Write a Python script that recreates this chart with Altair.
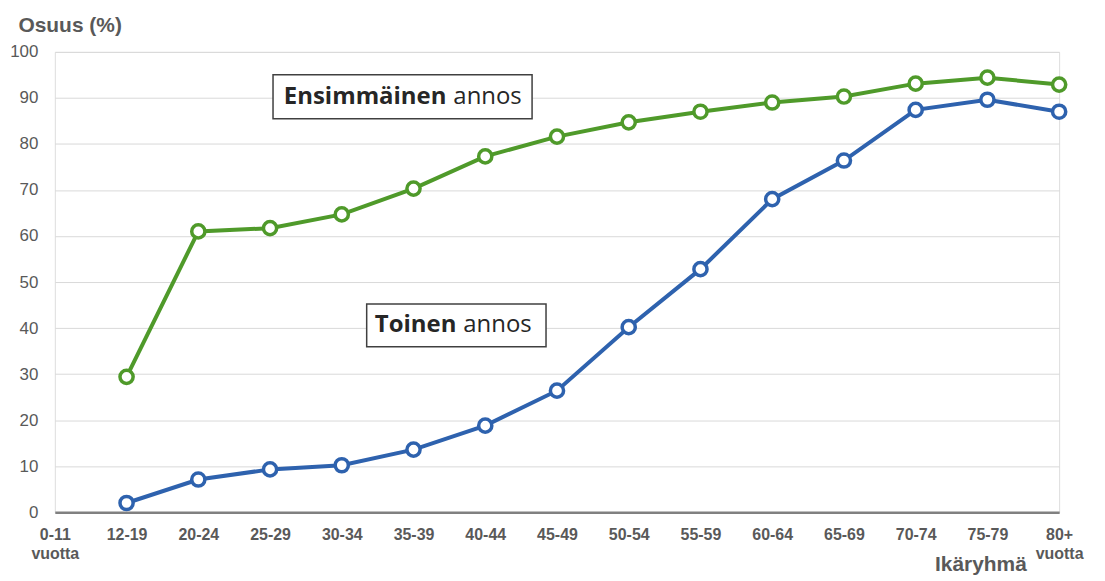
import altair as alt
import pandas as pd

categories = ["0-11", "12-19", "20-24", "25-29", "30-34", "35-39", "40-44", "45-49",
              "50-54", "55-59", "60-64", "65-69", "70-74", "75-79", "80+"]
first_dose = [None, 29.4, 61.0, 61.7, 64.7, 70.3, 77.3, 81.6, 84.7, 87.0, 89.0, 90.3, 93.1, 94.4, 92.9]
second_dose = [None, 2.0, 7.1, 9.3, 10.2, 13.6, 18.8, 26.4, 40.2, 52.8, 68.0, 76.4, 87.4, 89.6, 87.0]
series_names = ["Ensimmäinen", "Toinen"]
series_colors = ["#4f9a2a", "#2e62ae"]

rows = []
for name, vals in zip(series_names, [first_dose, second_dose]):
    for c, v in zip(categories, vals):
        rows.append({"ikä": c, "sarja": name, "osuus": v})
df = pd.DataFrame(rows)

label_expr = ("datum.label == '0-11' ? ['0-11', 'vuotta'] : "
              "(datum.label == '80+' ? ['80+', 'vuotta'] : datum.label)")

x = alt.X("ikä:N", scale=alt.Scale(domain=categories, type="point", padding=0),
          axis=alt.Axis(title="Ikäryhmä", labelAngle=0, labelExpr=label_expr,
                        labelFont="Liberation Sans", labelFontSize=16, labelFontWeight="bold",
                        labelColor="#595959", labelPadding=14, labelBaseline="top",
                        labelLineHeight=19, ticks=False, domainColor="#808080", domainWidth=2.5,
                        grid=False, titleFont="Liberation Sans", titleFontSize=21,
                        titleFontWeight="bold", titleColor="#595959", titleAlign="right",
                        titleX=975, titleY=59, titleBaseline="alphabetic", labelOverlap=False))
y = alt.Y("osuus:Q", scale=alt.Scale(domain=[0, 100]),
          axis=alt.Axis(title="Osuus (%)", values=list(range(0, 101, 10)), ticks=False,
                        domain=False, gridColor="#d9d9d9", gridWidth=1,
                        labelFont="Liberation Sans", labelFontSize=17, labelColor="#595959",
                        labelPadding=17, titleAngle=0, titleAlign="left", titleX=-37,
                        titleY=-20, titleBaseline="alphabetic", titleFont="Liberation Sans",
                        titleFontSize=21, titleFontWeight="bold", titleColor="#595959"))
color = alt.Color("sarja:N", scale=alt.Scale(domain=series_names, range=series_colors), legend=None)

base = alt.Chart(df)
lines = base.mark_line(strokeWidth=4).encode(x=x, y=y, color=color)
points = base.mark_point(shape="circle", filled=True, fill="white", size=175, strokeWidth=3.5,
                         opacity=1).encode(x=x, y=y, stroke=alt.Stroke("sarja:N",
                         scale=alt.Scale(domain=series_names, range=series_colors), legend=None))

ann = pd.DataFrame({
    "bold": ["Ensimmäinen", "Toinen"],
    "rest": ["annos", "annos"],
})
font = "Open Sans"
fs = 24
box1 = alt.Chart(ann.iloc[[0]]).mark_rect(fill="white", stroke="#404040", strokeWidth=1.5).encode(
    x=alt.value(219), x2=alt.value(479), y=alt.value(23), y2=alt.value(67))
box2 = alt.Chart(ann.iloc[[1]]).mark_rect(fill="white", stroke="#404040", strokeWidth=1.5).encode(
    x=alt.value(313), x2=alt.value(493), y=alt.value(253), y2=alt.value(296))
t1b = alt.Chart(ann.iloc[[0]]).mark_text(font=font, fontSize=fs, fontWeight="bold", align="right",
                                         baseline="middle", color="#262626").encode(
    text="bold:N", x=alt.value(393), y=alt.value(45))
t1r = alt.Chart(ann.iloc[[0]]).mark_text(font=font, fontSize=fs, align="left",
                                         baseline="middle", color="#262626").encode(
    text="rest:N", x=alt.value(400), y=alt.value(45))
t2b = alt.Chart(ann.iloc[[1]]).mark_text(font=font, fontSize=fs, fontWeight="bold", align="right",
                                         baseline="middle", color="#262626").encode(
    text="bold:N", x=alt.value(403), y=alt.value(274.5))
t2r = alt.Chart(ann.iloc[[1]]).mark_text(font=font, fontSize=fs, align="left",
                                         baseline="middle", color="#262626").encode(
    text="rest:N", x=alt.value(410), y=alt.value(274.5))

chart = alt.layer(lines, points, box1, box2, t1b, t1r, t2b, t2r).properties(
    width=1008, height=462,
    autosize=alt.AutoSizeParams(type="none"),
    padding={"left": 47, "top": 43, "right": 38, "bottom": 68},
).configure_view(stroke=None).configure(background="white")

chart.save("out.html", embed_options={"renderer": "svg", "actions": False})
